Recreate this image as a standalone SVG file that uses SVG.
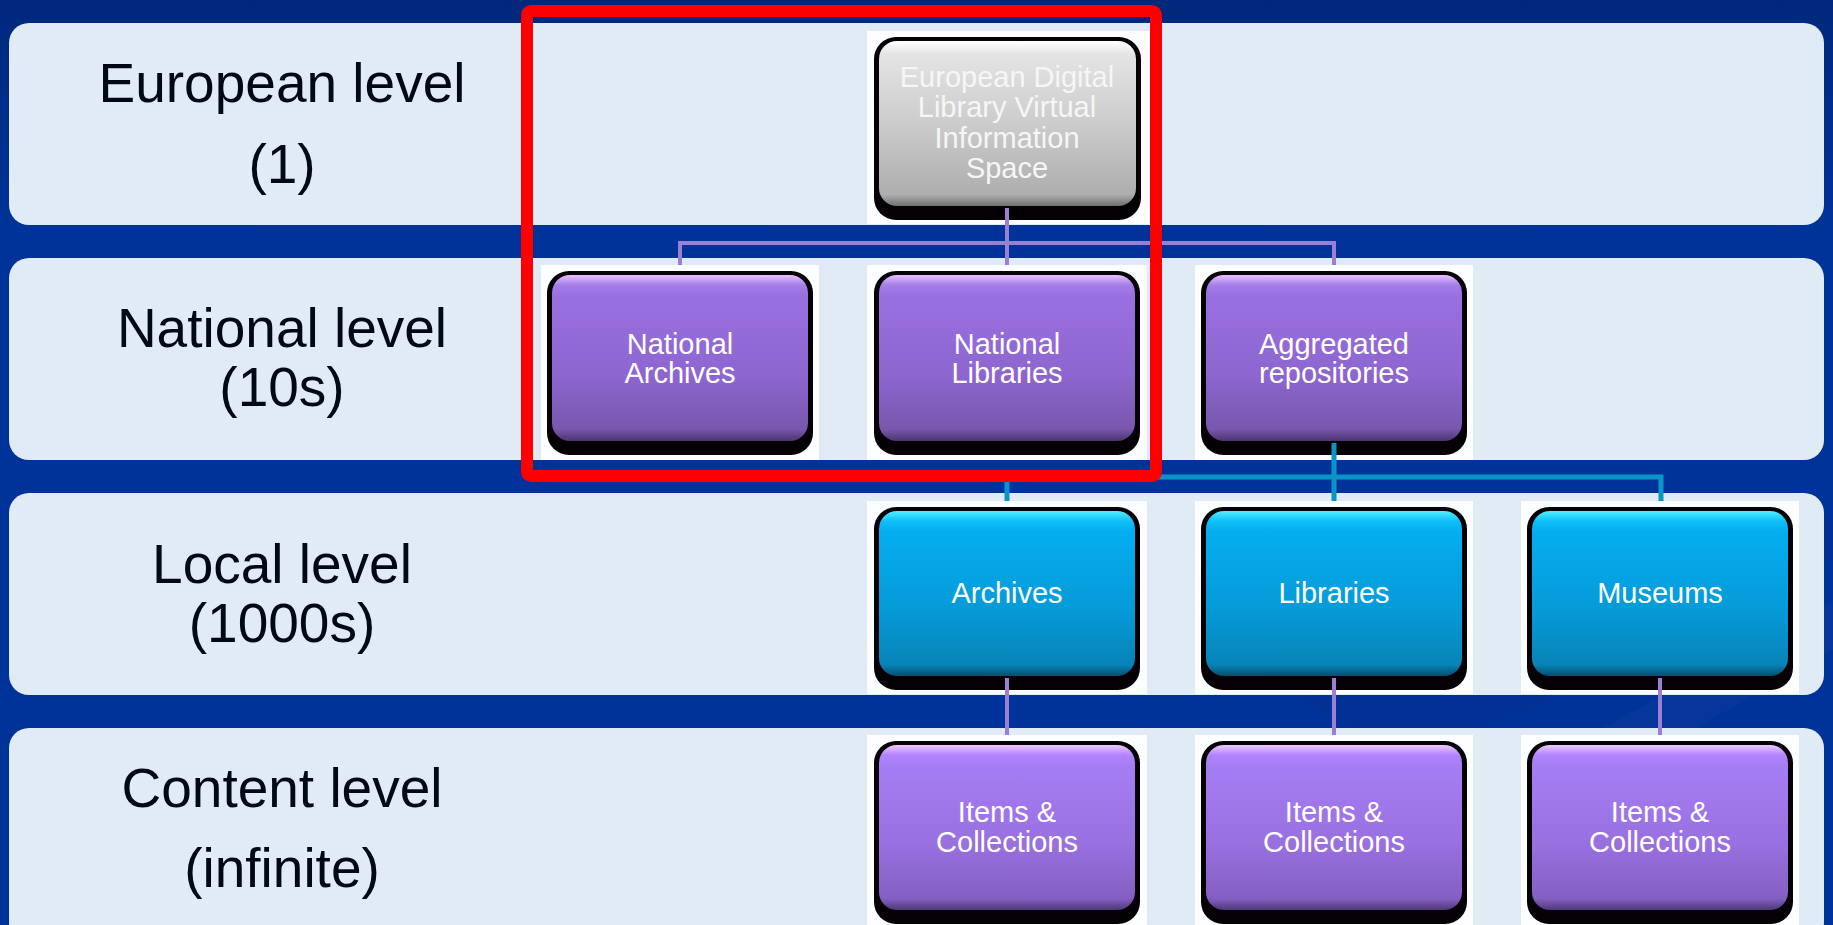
<svg xmlns="http://www.w3.org/2000/svg" width="1833" height="925" viewBox="0 0 1833 925">
  <defs>
    <linearGradient id="bgGrad" x1="0" y1="0" x2="0" y2="1">
      <stop offset="0" stop-color="#00277a"/>
      <stop offset="0.03" stop-color="#002a80"/>
      <stop offset="0.25" stop-color="#003399"/>
      <stop offset="1" stop-color="#003399"/>
    </linearGradient>
    <linearGradient id="gPurple" x1="0" y1="0" x2="0" y2="1">
      <stop offset="0" stop-color="#e8c0ff"/>
      <stop offset="0.06" stop-color="#a57ee8"/>
      <stop offset="0.12" stop-color="#9a70e0"/>
      <stop offset="0.6" stop-color="#8d66d0"/>
      <stop offset="0.93" stop-color="#7857ad"/>
      <stop offset="1" stop-color="#4a3570"/>
    </linearGradient>
    <linearGradient id="gPurple2" x1="0" y1="0" x2="0" y2="1">
      <stop offset="0" stop-color="#f0c8ff"/>
      <stop offset="0.06" stop-color="#b284ff"/>
      <stop offset="0.12" stop-color="#a67ef4"/>
      <stop offset="0.6" stop-color="#9870e0"/>
      <stop offset="0.93" stop-color="#845fc2"/>
      <stop offset="1" stop-color="#503878"/>
    </linearGradient>
    <linearGradient id="gBlue" x1="0" y1="0" x2="0" y2="1">
      <stop offset="0" stop-color="#50f0ff"/>
      <stop offset="0.06" stop-color="#10c0f8"/>
      <stop offset="0.12" stop-color="#04aef0"/>
      <stop offset="0.6" stop-color="#069ad8"/>
      <stop offset="0.93" stop-color="#0784b8"/>
      <stop offset="1" stop-color="#04506e"/>
    </linearGradient>
    <linearGradient id="gGray" x1="0" y1="0" x2="0" y2="1">
      <stop offset="0" stop-color="#ffffff"/>
      <stop offset="0.08" stop-color="#e4e4e4"/>
      <stop offset="0.5" stop-color="#cccccc"/>
      <stop offset="0.93" stop-color="#aeaeae"/>
      <stop offset="1" stop-color="#707070"/>
    </linearGradient>
    <style>
      .band { fill: #e1ebf5; }
      .lvl { font-family: "Liberation Sans", Arial, sans-serif; font-size: 55px; fill: #000814; text-anchor: middle; }
      .bg { fill: #ffffff; opacity: 0.92; }
      .shell { fill: #050005; }
      .lbl { font-family: "Liberation Sans", Arial, sans-serif; font-size: 29px; fill: #ffffff; text-anchor: middle; }
      .gray .lbl { fill: #f6f6f6; }
      .cp { stroke: #9c7fd2; stroke-width: 4; fill: none; }
      .cb { stroke: #0a94c8; stroke-width: 5; fill: none; }
      .hl { fill: none; stroke: #ff0000; stroke-width: 12; }
    </style>
  </defs>

  <rect x="0" y="0" width="1833" height="925" fill="url(#bgGrad)"/>
  <polygon points="1250,925 1833,600 1833,650 1350,925" fill="#ffffff" opacity="0.02"/>
  <polygon points="1300,700 1833,520 1833,560 1420,760" fill="#000000" opacity="0.04"/>

  <g id="bands">
    <rect class="band" x="9" y="23" width="1815" height="202" rx="20"/>
    <rect class="band" x="9" y="258" width="1815" height="202" rx="20"/>
    <rect class="band" x="9" y="493" width="1815" height="202" rx="20"/>
    <rect class="band" x="9" y="728" width="1815" height="214" rx="20"/>
  </g>

  <g id="level-labels">
    <g id="lbl-european">
      <text class="lvl" x="282" y="102">European level</text>
      <text class="lvl" x="282" y="183">(1)</text>
    </g>
    <g id="lbl-national">
      <text class="lvl" x="282" y="347">National level</text>
      <text class="lvl" x="282" y="406">(10s)</text>
    </g>
    <g id="lbl-local">
      <text class="lvl" x="282" y="583">Local level</text>
      <text class="lvl" x="282" y="642">(1000s)</text>
    </g>
    <g id="lbl-content">
      <text class="lvl" x="282" y="807">Content level</text>
      <text class="lvl" x="282" y="887">(infinite)</text>
    </g>
  </g>

  <!-- nodes -->
  <g id="n-european" class="node gray">
    <rect class="bg" x="867" y="31" width="283" height="193"/>
    <rect class="shell" x="874" y="37" width="267" height="183" rx="22"/>
    <rect x="879" y="41" width="257" height="165" rx="18" fill="url(#gGray)"/>
    <text class="lbl" x="1007" y="87">European Digital</text>
    <text class="lbl" x="1007" y="117">Library Virtual</text>
    <text class="lbl" x="1007" y="148">Information</text>
    <text class="lbl" x="1007" y="178">Space</text>
  </g>

  <g id="n-nat-archives" class="node">
    <rect class="bg" x="541" y="265" width="278" height="195"/>
    <rect class="shell" x="547" y="271" width="266" height="184" rx="22"/>
    <rect x="552" y="275" width="256" height="166" rx="18" fill="url(#gPurple)"/>
    <text class="lbl" x="680" y="354">National</text>
    <text class="lbl" x="680" y="383">Archives</text>
  </g>

  <g id="n-nat-libraries" class="node">
    <rect class="bg" x="867" y="265" width="280" height="195"/>
    <rect class="shell" x="874" y="271" width="266" height="184" rx="22"/>
    <rect x="879" y="275" width="256" height="166" rx="18" fill="url(#gPurple)"/>
    <text class="lbl" x="1007" y="354">National</text>
    <text class="lbl" x="1007" y="383">Libraries</text>
  </g>

  <g id="n-aggregated" class="node">
    <rect class="bg" x="1195" y="265" width="278" height="195"/>
    <rect class="shell" x="1201" y="271" width="266" height="184" rx="22"/>
    <rect x="1206" y="275" width="256" height="166" rx="18" fill="url(#gPurple)"/>
    <text class="lbl" x="1334" y="354">Aggregated</text>
    <text class="lbl" x="1334" y="383">repositories</text>
  </g>

  <g id="n-archives" class="node">
    <rect class="bg" x="867" y="501" width="280" height="193"/>
    <rect class="shell" x="874" y="507" width="266" height="183" rx="22"/>
    <rect x="879" y="511" width="256" height="165" rx="18" fill="url(#gBlue)"/>
    <text class="lbl" x="1007" y="603">Archives</text>
  </g>

  <g id="n-libraries" class="node">
    <rect class="bg" x="1195" y="501" width="278" height="193"/>
    <rect class="shell" x="1201" y="507" width="266" height="183" rx="22"/>
    <rect x="1206" y="511" width="256" height="165" rx="18" fill="url(#gBlue)"/>
    <text class="lbl" x="1334" y="603">Libraries</text>
  </g>

  <g id="n-museums" class="node">
    <rect class="bg" x="1521" y="501" width="278" height="193"/>
    <rect class="shell" x="1527" y="507" width="266" height="183" rx="22"/>
    <rect x="1532" y="511" width="256" height="165" rx="18" fill="url(#gBlue)"/>
    <text class="lbl" x="1660" y="603">Museums</text>
  </g>

  <g id="n-items-1" class="node">
    <rect class="bg" x="867" y="735" width="280" height="190"/>
    <rect class="shell" x="874" y="741" width="266" height="183" rx="22"/>
    <rect x="879" y="745" width="256" height="165" rx="18" fill="url(#gPurple2)"/>
    <text class="lbl" x="1007" y="822">Items &amp;</text>
    <text class="lbl" x="1007" y="852">Collections</text>
  </g>

  <g id="n-items-2" class="node">
    <rect class="bg" x="1195" y="735" width="278" height="190"/>
    <rect class="shell" x="1201" y="741" width="266" height="183" rx="22"/>
    <rect x="1206" y="745" width="256" height="165" rx="18" fill="url(#gPurple2)"/>
    <text class="lbl" x="1334" y="822">Items &amp;</text>
    <text class="lbl" x="1334" y="852">Collections</text>
  </g>

  <g id="n-items-3" class="node">
    <rect class="bg" x="1521" y="735" width="278" height="190"/>
    <rect class="shell" x="1527" y="741" width="266" height="183" rx="22"/>
    <rect x="1532" y="745" width="256" height="165" rx="18" fill="url(#gPurple2)"/>
    <text class="lbl" x="1660" y="822">Items &amp;</text>
    <text class="lbl" x="1660" y="852">Collections</text>
  </g>

  <g id="connectors">
    <path class="cp" d="M1007 208 V265 M680 265 V243 H1334 V265"/>
    <path class="cb" d="M1334 443 V501 M1007 501 V477 H1661 V501"/>
    <path class="cp" d="M1007 678 V735 M1334 678 V735 M1660 678 V735"/>
  </g>

  <rect id="highlight" class="hl" x="527" y="11" width="629" height="465" rx="4"/>
</svg>
